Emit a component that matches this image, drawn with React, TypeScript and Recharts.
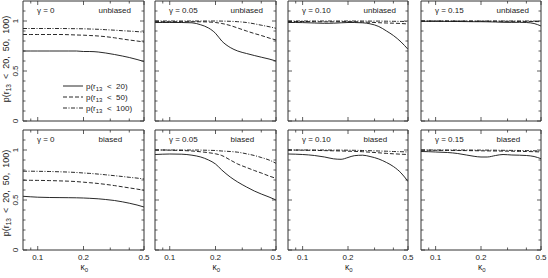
import React from "react";
import { LineChart, Line, XAxis, YAxis, Legend } from "recharts";

// kappa_0 sample points (log axis)
const KAPPA = [0.08, 0.09, 0.1, 0.12, 0.14, 0.16, 0.18, 0.2, 0.22, 0.25, 0.28, 0.32, 0.36, 0.4, 0.45, 0.5];

const X_TICKS = [0.09, 0.1, 0.2, 0.3, 0.4, 0.5];
const X_LABELS = [0.1, 0.2, 0.5];
const Y_TICKS = [0, 0.1, 0.2, 0.3, 0.4, 0.5, 0.6, 0.7, 0.8, 0.9, 1, 1.1];
const Y_LABELS = [0, 0.5, 1];

const GAMMAS = ["0", "0.05", "0.10", "0.15"];
const ROW_NAMES = ["unbiased", "biased"];
const LEGEND_NAMES = ["20", "50", "100"];

// unbiased
const u_g0_p20 = [0.7, 0.7, 0.7, 0.7, 0.7, 0.7, 0.7, 0.695, 0.695, 0.69, 0.68, 0.665, 0.65, 0.635, 0.615, 0.595];
const u_g0_p50 = [0.865, 0.865, 0.865, 0.865, 0.865, 0.863, 0.86, 0.858, 0.855, 0.85, 0.843, 0.832, 0.82, 0.81, 0.8, 0.79];
const u_g0_p100 = [0.925, 0.925, 0.925, 0.925, 0.925, 0.924, 0.923, 0.922, 0.92, 0.917, 0.913, 0.908, 0.903, 0.899, 0.894, 0.888];

const u_g05_p20 = [0.985, 0.985, 0.985, 0.985, 0.982, 0.962, 0.93, 0.877, 0.8, 0.735, 0.7, 0.675, 0.655, 0.638, 0.62, 0.6];
const u_g05_p50 = [0.993, 0.993, 0.993, 0.993, 0.993, 0.992, 0.99, 0.985, 0.975, 0.955, 0.93, 0.9, 0.875, 0.855, 0.83, 0.81];
const u_g05_p100 = [1.0, 1.0, 1.0, 1.0, 1.0, 1.0, 1.0, 1.0, 0.999, 0.997, 0.993, 0.985, 0.972, 0.958, 0.943, 0.927];

const u_g10_p20 = [0.985, 0.985, 0.984, 0.98, 0.977, 0.978, 0.982, 0.985, 0.985, 0.982, 0.972, 0.945, 0.9, 0.855, 0.79, 0.717];
const u_g10_p50 = [0.995, 0.995, 0.995, 0.993, 0.992, 0.992, 0.993, 0.994, 0.993, 0.99, 0.987, 0.983, 0.98, 0.978, 0.975, 0.97];
const u_g10_p100 = [1.0, 1.0, 1.0, 1.0, 1.0, 1.0, 1.0, 1.0, 1.0, 1.0, 0.999, 0.999, 0.998, 0.997, 0.996, 0.995];

const u_g15_p20 = [0.997, 0.997, 0.997, 0.996, 0.995, 0.994, 0.993, 0.993, 0.992, 0.99, 0.987, 0.986, 0.987, 0.985, 0.975, 0.95];
const u_g15_p50 = [0.999, 0.999, 0.999, 0.999, 0.999, 0.999, 0.998, 0.998, 0.998, 0.998, 0.997, 0.997, 0.996, 0.996, 0.995, 0.993];
const u_g15_p100 = [1.0, 1.0, 1.0, 1.0, 1.0, 1.0, 1.0, 1.0, 1.0, 1.0, 1.0, 1.0, 1.0, 1.0, 0.999, 0.999];

// biased
const b_g0_p20 = [0.537, 0.532, 0.528, 0.525, 0.524, 0.523, 0.522, 0.52, 0.517, 0.512, 0.505, 0.495, 0.482, 0.468, 0.45, 0.43];
const b_g0_p50 = [0.698, 0.697, 0.696, 0.694, 0.691, 0.688, 0.684, 0.678, 0.673, 0.665, 0.656, 0.644, 0.632, 0.621, 0.609, 0.597];
const b_g0_p100 = [0.788, 0.788, 0.787, 0.785, 0.782, 0.779, 0.775, 0.77, 0.766, 0.759, 0.752, 0.743, 0.735, 0.727, 0.719, 0.71];

const b_g05_p20 = [0.955, 0.958, 0.96, 0.958, 0.948, 0.93, 0.9, 0.86, 0.8, 0.73, 0.68, 0.63, 0.59, 0.56, 0.53, 0.5];
const b_g05_p50 = [1.0, 1.0, 0.998, 0.995, 0.99, 0.982, 0.973, 0.962, 0.945, 0.9, 0.86, 0.825, 0.795, 0.77, 0.74, 0.717];
const b_g05_p100 = [1.0, 1.0, 1.0, 1.0, 1.0, 0.999, 0.997, 0.995, 0.99, 0.985, 0.978, 0.962, 0.945, 0.925, 0.9, 0.867];

const b_g10_p20 = [0.96, 0.958, 0.955, 0.945, 0.93, 0.912, 0.907, 0.925, 0.943, 0.948, 0.935, 0.91, 0.875, 0.835, 0.77, 0.685];
const b_g10_p50 = [1.0, 0.999, 0.998, 0.996, 0.994, 0.992, 0.99, 0.988, 0.986, 0.983, 0.978, 0.972, 0.966, 0.962, 0.958, 0.955];
const b_g10_p100 = [1.0, 1.0, 1.0, 1.0, 1.0, 0.999, 0.999, 0.998, 0.997, 0.995, 0.993, 0.99, 0.988, 0.985, 0.983, 0.98];

const b_g15_p20 = [0.985, 0.983, 0.98, 0.975, 0.965, 0.95, 0.937, 0.93, 0.93, 0.945, 0.955, 0.95, 0.948, 0.945, 0.935, 0.913];
const b_g15_p50 = [0.998, 0.998, 0.997, 0.996, 0.995, 0.994, 0.993, 0.992, 0.991, 0.99, 0.989, 0.988, 0.986, 0.985, 0.983, 0.98];
const b_g15_p100 = [1.0, 1.0, 1.0, 1.0, 1.0, 1.0, 0.999, 0.999, 0.999, 0.998, 0.997, 0.996, 0.995, 0.994, 0.992, 0.99];

const SERIES = [
  [
    [u_g0_p20, u_g0_p50, u_g0_p100],
    [u_g05_p20, u_g05_p50, u_g05_p100],
    [u_g10_p20, u_g10_p50, u_g10_p100],
    [u_g15_p20, u_g15_p50, u_g15_p100],
  ],
  [
    [b_g0_p20, b_g0_p50, b_g0_p100],
    [b_g05_p20, b_g05_p50, b_g05_p100],
    [b_g10_p20, b_g10_p50, b_g10_p100],
    [b_g15_p20, b_g15_p50, b_g15_p100],
  ],
];

// layout
const PANEL_X = [23, 155, 288, 421];
const PANEL_W = [121, 121, 120, 120];
const PANEL_Y = [1, 130];
const PANEL_H = 120;

const FONT = "'Liberation Sans', Arial, Helvetica, sans-serif";
const INK = "#222";
const AXIS = "#333";
const DASHES = ["0", "4 2", "4 1.5 1 1.5"];

const makeBottomTick = (showLabel: boolean) => (props: any) => {
  const { x, y, payload } = props;
  const major = X_LABELS.includes(payload.value);
  return (
    <g>
      <line x1={x} y1={y} x2={x} y2={y - (major ? 4 : 2.5)} stroke={AXIS} strokeWidth={0.8} />
      {showLabel && major && (
        <text x={x} y={y + 9.5} textAnchor="middle" fontSize={8} fontFamily={FONT} fill={INK}>
          {payload.value}
        </text>
      )}
    </g>
  );
};

const TopTick = (props: any) => {
  const { x, y, payload } = props;
  const major = X_LABELS.includes(payload.value);
  return <line x1={x} y1={y} x2={x} y2={y + (major ? 4 : 2.5)} stroke={AXIS} strokeWidth={0.8} />;
};

const makeLeftTick = (showLabel: boolean) => (props: any) => {
  const { x, y, payload } = props;
  const major = Y_LABELS.includes(payload.value);
  const lx = x - 5.5;
  return (
    <g>
      <line x1={x} y1={y} x2={x + (major ? 4 : 2.5)} y2={y} stroke={AXIS} strokeWidth={0.8} />
      {showLabel && major && (
        <text x={lx} y={y} transform={`rotate(-90, ${lx}, ${y})`} textAnchor="middle" fontSize={8} fontFamily={FONT} fill={INK}>
          {payload.value}
        </text>
      )}
    </g>
  );
};

const RightTick = (props: any) => {
  const { x, y, payload } = props;
  const major = Y_LABELS.includes(payload.value);
  return <line x1={x} y1={y} x2={x - (major ? 4 : 2.5)} y2={y} stroke={AXIS} strokeWidth={0.8} />;
};

const LegendBox = () => (
  <svg width={90} height={38} style={{ display: "block" }}>
    {LEGEND_NAMES.map((n, i) => (
      <g key={n}>
        <line x1={3} x2={23} y1={8 + i * 11} y2={8 + i * 11} stroke="#111" strokeWidth={0.9} strokeDasharray={DASHES[i]} />
        <text x={26} y={11 + i * 11} fontSize={8} fontFamily={FONT} fill={INK} style={{ whiteSpace: "pre" }}>
          p(r<tspan fontSize={6} dy={2}>13</tspan>
          <tspan dy={-2}>{`  <  ${n})`}</tspan>
        </text>
      </g>
    ))}
  </svg>
);

function Panel({ row, col }: { row: number; col: number }) {
  const L = col === 0 ? 23 : 6;
  const R = 10;
  const T = 4;
  const B = row === 1 ? 26 : 6;
  const W = L + PANEL_W[col] + R;
  const H = T + PANEL_H + B;
  const [s20, s50, s100] = SERIES[row][col];
  const data = KAPPA.map((k, i) => ({ k, p20: s20[i], p50: s50[i], p100: s100[i] }));
  const keys = ["p20", "p50", "p100"];

  return (
    <div style={{ position: "absolute", left: PANEL_X[col] - L, top: PANEL_Y[row] - T }}>
      <LineChart width={W} height={H} data={data} margin={{ top: 0, right: 0, bottom: 0, left: 0 }}>
        <XAxis
          dataKey="k"
          type="number"
          scale="log"
          domain={[0.08, 0.5]}
          allowDataOverflow
          ticks={X_TICKS}
          interval={0}
          height={B}
          tickSize={0}
          tickMargin={0}
          tickLine={false}
          axisLine={{ stroke: AXIS, strokeWidth: 1 }}
          tick={makeBottomTick(row === 1)}
        />
        <XAxis
          xAxisId="top"
          orientation="top"
          dataKey="k"
          type="number"
          scale="log"
          domain={[0.08, 0.5]}
          allowDataOverflow
          ticks={X_TICKS}
          interval={0}
          height={T}
          tickSize={0}
          tickMargin={0}
          tickLine={false}
          axisLine={{ stroke: AXIS, strokeWidth: 1 }}
          tick={TopTick}
        />
        <YAxis
          type="number"
          domain={[0, 1.2]}
          allowDataOverflow
          ticks={Y_TICKS}
          interval={0}
          width={L}
          tickSize={0}
          tickMargin={0}
          tickLine={false}
          axisLine={{ stroke: AXIS, strokeWidth: 1 }}
          tick={makeLeftTick(col === 0)}
        />
        <YAxis
          yAxisId="right"
          orientation="right"
          type="number"
          domain={[0, 1.2]}
          allowDataOverflow
          ticks={Y_TICKS}
          interval={0}
          width={R}
          tickSize={0}
          tickMargin={0}
          tickLine={false}
          axisLine={{ stroke: AXIS, strokeWidth: 1 }}
          tick={RightTick}
        />
        {keys.map((key, i) => (
          <Line
            key={key}
            dataKey={key}
            type="monotone"
            stroke="#111"
            strokeWidth={0.9}
            strokeDasharray={DASHES[i]}
            dot={false}
            isAnimationActive={false}
          />
        ))}
        {row === 0 && col === 0 && (
          <Legend
            layout="vertical"
            align="center"
            verticalAlign="middle"
            wrapperStyle={{ left: 60, top: 81, width: 90 }}
            content={() => <LegendBox />}
          />
        )}
      </LineChart>
    </div>
  );
}

function Annotations() {
  return (
    <svg width={548} height={278} style={{ position: "absolute", left: 0, top: 0, pointerEvents: "none" }}>
      {PANEL_Y.map((py, r) =>
        PANEL_X.map((px, c) => (
          <g key={`${r}-${c}`} fontFamily={FONT} fontSize={8} fill={INK} style={{ whiteSpace: "pre" }}>
            <text x={px + 14} y={py + 12}>{`γ  =  ${GAMMAS[c]}`}</text>
            <text x={px + 75.5} y={py + 12}>{ROW_NAMES[r]}</text>
          </g>
        ))
      )}
      {[59, 193].map((cy, r) => (
        <text
          key={`yl-${r}`}
          x={9}
          y={cy}
          transform={`rotate(-90, 9, ${cy})`}
          textAnchor="middle"
          fontFamily={FONT}
          fontSize={9}
          fill={INK}
          style={{ whiteSpace: "pre" }}
        >
          p(r<tspan fontSize={6.5} dy={2}>13</tspan>
          <tspan dy={-2}>{"  <  20,  50,  100)"}</tspan>
        </text>
      ))}
      {PANEL_X.map((px, c) => (
        <text key={`xl-${c}`} x={px + PANEL_W[c] / 2 - 3} y={270} fontFamily={FONT} fontSize={8.5} fill={INK}>
          κ<tspan fontSize={6} dy={2}>0</tspan>
        </text>
      ))}
    </svg>
  );
}

export default function App() {
  return (
    <div style={{ position: "absolute", left: 0, top: 0, width: 548, height: 278, background: "#fff", overflow: "hidden" }}>
      {PANEL_Y.map((_, r) => PANEL_X.map((__, c) => <Panel key={`${r}-${c}`} row={r} col={c} />))}
      <Annotations />
    </div>
  );
}
